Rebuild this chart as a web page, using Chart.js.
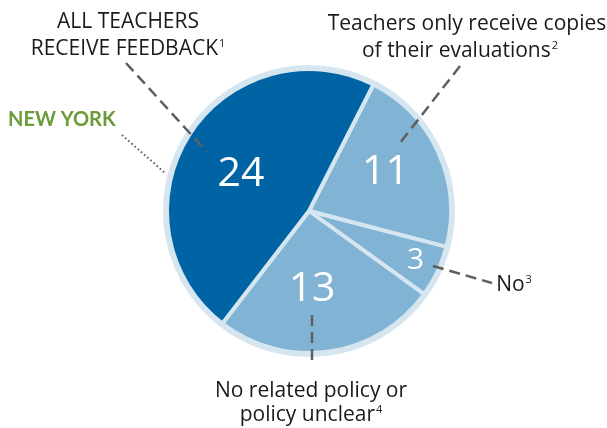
<!DOCTYPE html>
<html>
<head>
<meta charset="utf-8">
<script src="https://cdn.jsdelivr.net/npm/chart.js@4/dist/chart.umd.min.js"></script>
<style>
  html, body { margin: 0; padding: 0; background: #fff; }
  canvas { display: block; }
</style>
</head>
<body>
<canvas id="feedback-pie" width="607" height="428"></canvas>
<script>
// slices, clockwise from the top right
const categories = ["Teachers only receive copies of their evaluations", "No", "No related policy or policy unclear", "All teachers receive feedback"];
const stateCounts = [11, 3, 13, 24];
const sliceColors = ["#80b3d4", "#80b3d4", "#80b3d4", "#0064a4"];

const PALE = "#d5e6f1";
const LINE_GRAY = "#5f5f5f";
const TEXT_FONT = "'Open Sans', sans-serif";
const CAPTION_SIZE = 21;

// where each count sits inside its slice: nudge from mid angle (deg), distance from centre, font size
const valueLabelSpots = [
  { nudge: -3, dist: 86, size: 41 },
  { nudge: -1, dist: 117, size: 30 },
  { nudge: 6, dist: 77, size: 41 },
  { nudge: -3, dist: 78, size: 41 }
];

// outside captions, one entry per line
const captionLines = [
  { text: "ALL TEACHERS", sup: "", cx: 128, y: 28 },
  { text: "RECEIVE FEEDBACK", sup: "1", cx: 128, y: 55 },
  { text: "Teachers only receive copies", sup: "", cx: 467, y: 30 },
  { text: "of their evaluations", sup: "2", cx: 460, y: 57 },
  { text: "No", sup: "3", cx: 514, y: 291 },
  { text: "No related policy or", sup: "", cx: 311, y: 397 },
  { text: "policy unclear", sup: "4", cx: 311, y: 421 }
];

const leaderLines = [
  { from: [126, 63], to: [207, 152], dash: [11, 6], width: 2.5 },
  { from: [460, 66], to: [400, 143], dash: [11, 6], width: 2.5 },
  { from: [433, 266], to: [492, 283], dash: [11, 6], width: 2.5 },
  { from: [312, 315], to: [312, 366], dash: [11, 6], width: 2.5 },
  { from: [122, 135], to: [165, 173], dash: [1.6, 2.6], width: 2 }
];

// pale disc behind the slices gives the thin outer rim
const rimPlugin = {
  id: "rim",
  beforeDatasetsDraw(chart) {
    const arc = chart.getDatasetMeta(0).data[0];
    const ctx = chart.ctx;
    ctx.save();
    ctx.fillStyle = PALE;
    ctx.beginPath();
    ctx.arc(arc.x, arc.y, arc.outerRadius + 4, 0, Math.PI * 2);
    ctx.fill();
    ctx.restore();
  }
};

const annotationPlugin = {
  id: "annotations",
  afterDraw(chart) {
    const ctx = chart.ctx;
    const meta = chart.getDatasetMeta(0);

    // leader lines
    ctx.save();
    ctx.strokeStyle = LINE_GRAY;
    leaderLines.forEach((l) => {
      ctx.lineWidth = l.width;
      ctx.setLineDash(l.dash);
      ctx.beginPath();
      ctx.moveTo(l.from[0], l.from[1]);
      ctx.lineTo(l.to[0], l.to[1]);
      ctx.stroke();
    });
    ctx.restore();

    // counts inside the slices
    ctx.save();
    ctx.fillStyle = "#ffffff";
    ctx.textAlign = "center";
    ctx.textBaseline = "middle";
    meta.data.forEach((arc, i) => {
      const spot = valueLabelSpots[i];
      const mid = (arc.startAngle + arc.endAngle) / 2 + spot.nudge * Math.PI / 180;
      ctx.font = `400 ${spot.size}px ${TEXT_FONT}`;
      ctx.fillText(String(stateCounts[i]), arc.x + Math.cos(mid) * spot.dist, arc.y + Math.sin(mid) * spot.dist + 1);
    });
    ctx.restore();

    // captions with superscript notes
    ctx.save();
    ctx.fillStyle = "#1a1a1a";
    ctx.textBaseline = "alphabetic";
    ctx.textAlign = "left";
    captionLines.forEach((c) => {
      ctx.font = `400 ${CAPTION_SIZE}px ${TEXT_FONT}`;
      const w = ctx.measureText(c.text).width;
      ctx.font = `400 11px ${TEXT_FONT}`;
      const sw = c.sup ? ctx.measureText(c.sup).width + 1 : 0;
      const left = c.cx - (w + sw) / 2;
      ctx.font = `400 ${CAPTION_SIZE}px ${TEXT_FONT}`;
      ctx.fillText(c.text, left, c.y);
      if (c.sup) {
        ctx.font = `400 11px ${TEXT_FONT}`;
        ctx.fillText(c.sup, left + w + 1, c.y - 8);
      }
    });

    ctx.fillStyle = "#6b9b3a";
    ctx.font = "700 20px Lato, sans-serif";
    ctx.fillText("NEW YORK", 8, 126);
    ctx.restore();
  }
};

function drawChart() {
  new Chart(document.getElementById("feedback-pie"), {
    type: "pie",
    data: {
      labels: categories,
      datasets: [{
        data: stateCounts,
        backgroundColor: sliceColors,
        borderColor: PALE,
        borderWidth: 4
      }]
    },
    options: {
      responsive: false,
      animation: false,
      rotation: 27,
      radius: 142,
      layout: { padding: { left: 11, right: 0, top: 0, bottom: 6 } },
      plugins: {
        legend: { display: false },
        tooltip: { enabled: false }
      }
    },
    plugins: [rimPlugin, annotationPlugin]
  });
}

// make sure the local fonts are ready before the canvas text is painted
Promise.all([
  document.fonts.load("400 41px 'Open Sans'"),
  document.fonts.load("700 20px Lato"),
  document.fonts.load("400 21px 'Open Sans'"),
  document.fonts.load("400 11px 'Open Sans'")
]).then(drawChart, drawChart);
</script>
</body>
</html>
